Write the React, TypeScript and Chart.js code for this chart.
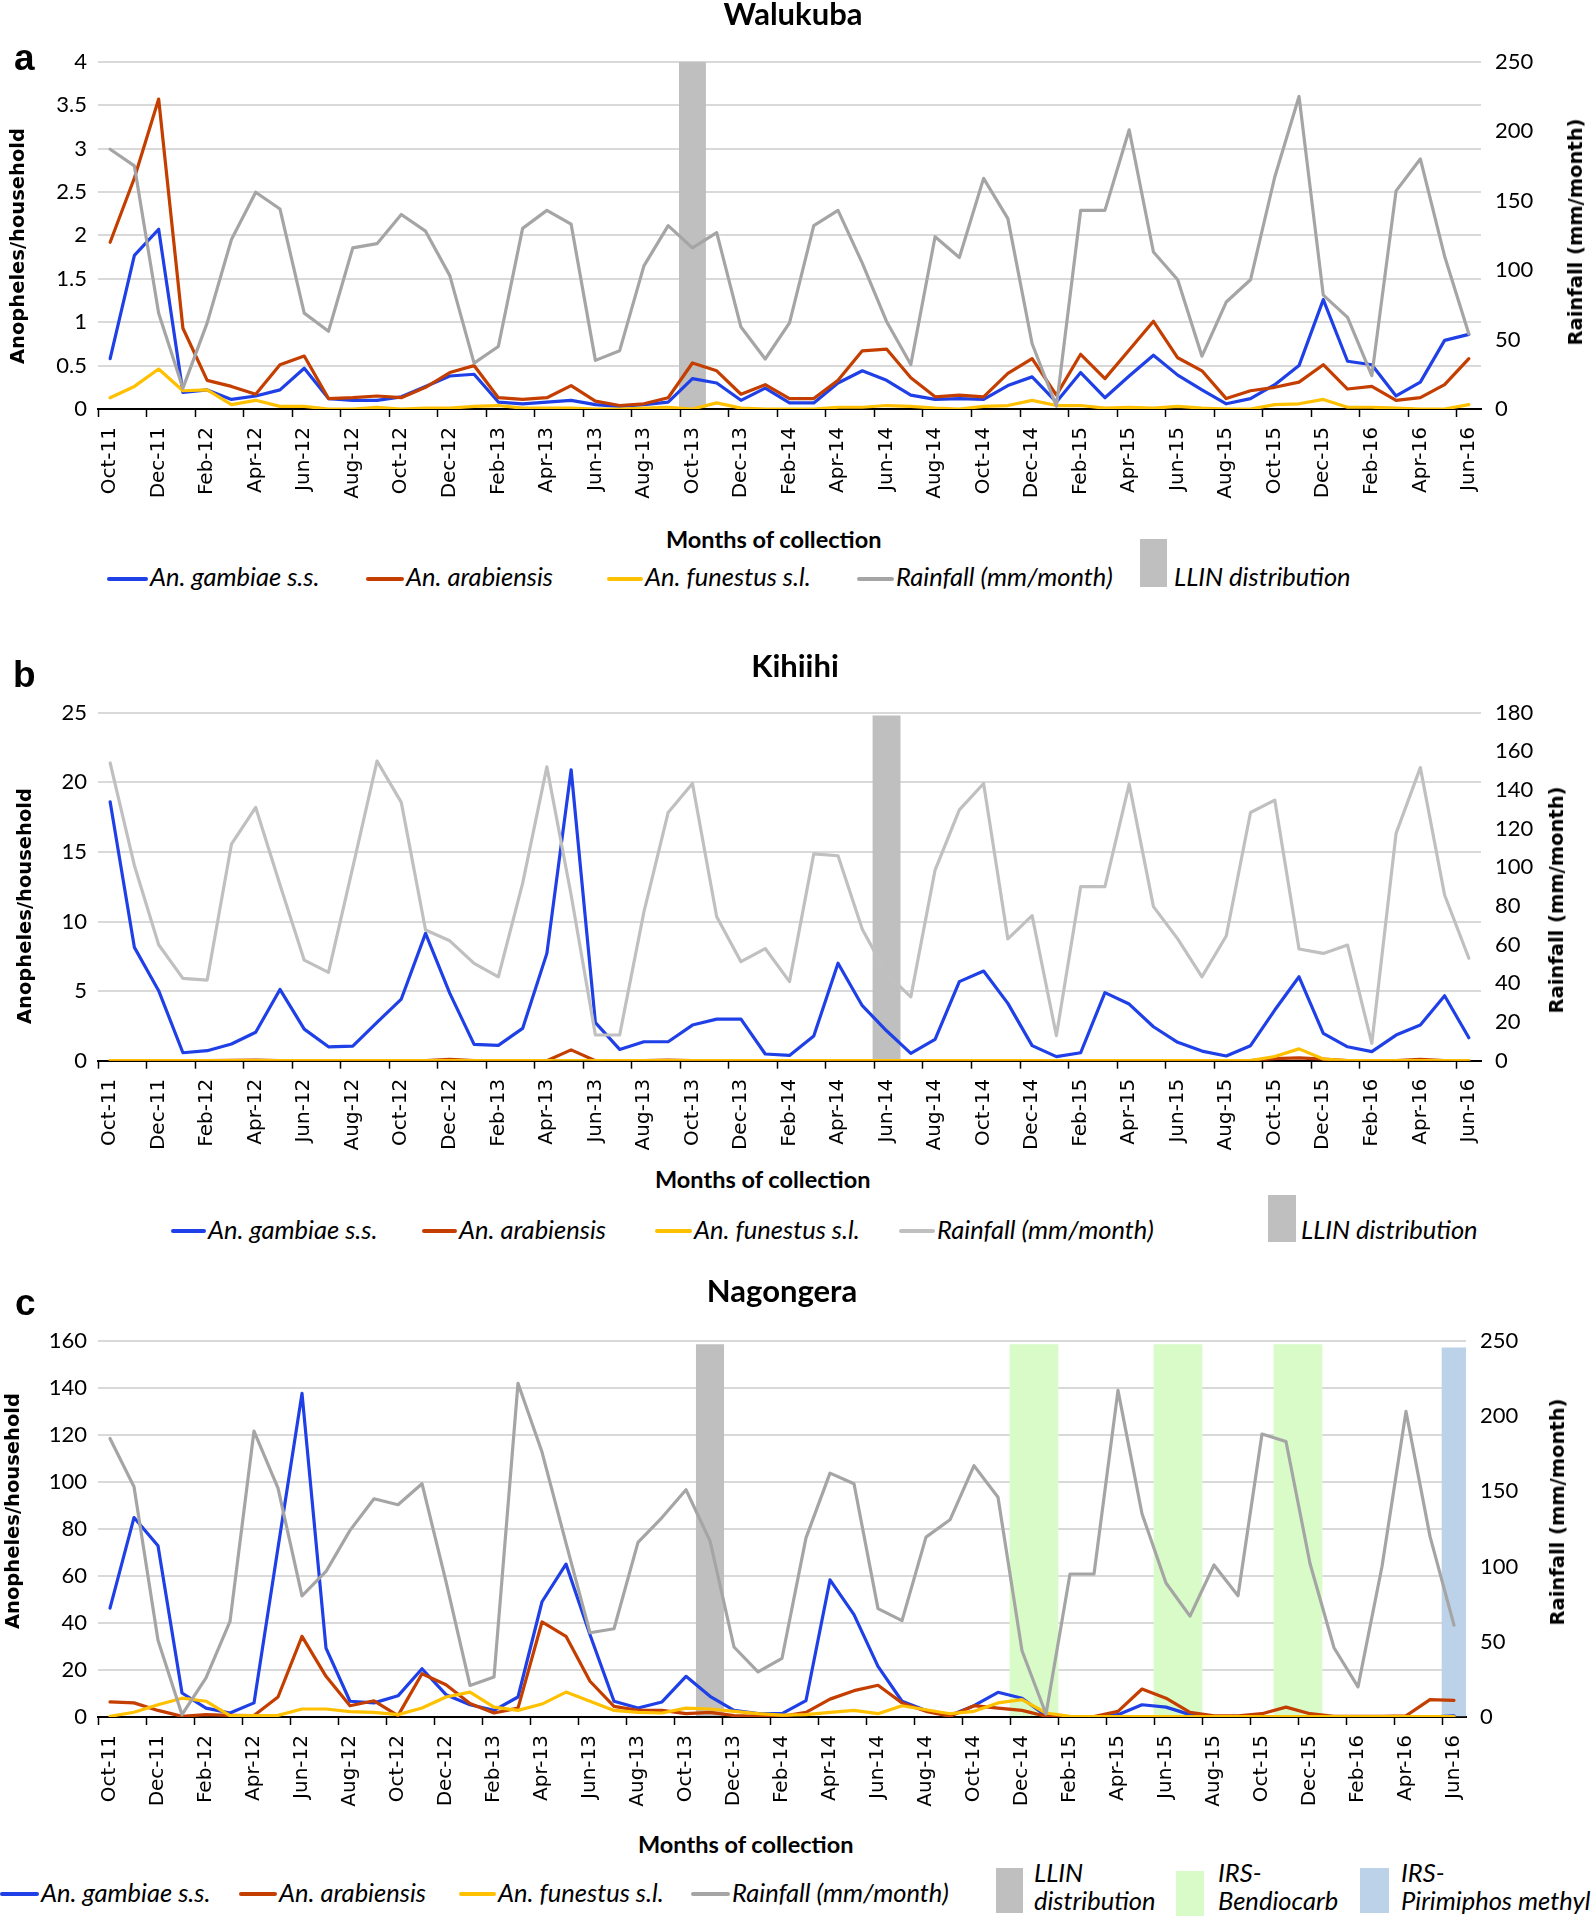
import React, { useEffect, useRef } from 'react';
import { Chart, registerables } from 'chart.js';

Chart.register(...registerables);

// ---------- categories ----------
const months = [
  'Oct-11', 'Nov-11', 'Dec-11', 'Jan-12', 'Feb-12', 'Mar-12', 'Apr-12', 'May-12', 'Jun-12', 'Jul-12',
  'Aug-12', 'Sep-12', 'Oct-12', 'Nov-12', 'Dec-12', 'Jan-13', 'Feb-13', 'Mar-13', 'Apr-13', 'May-13',
  'Jun-13', 'Jul-13', 'Aug-13', 'Sep-13', 'Oct-13', 'Nov-13', 'Dec-13', 'Jan-14', 'Feb-14', 'Mar-14',
  'Apr-14', 'May-14', 'Jun-14', 'Jul-14', 'Aug-14', 'Sep-14', 'Oct-14', 'Nov-14', 'Dec-14', 'Jan-15',
  'Feb-15', 'Mar-15', 'Apr-15', 'May-15', 'Jun-15', 'Jul-15', 'Aug-15', 'Sep-15', 'Oct-15', 'Nov-15',
  'Dec-15', 'Jan-16', 'Feb-16', 'Mar-16', 'Apr-16', 'May-16', 'Jun-16',
];

// ---------- (a) Walukuba ----------
const gambiaeWalukuba = [
  0.58, 1.77, 2.07, 0.19, 0.22, 0.11, 0.15, 0.22, 0.47, 0.12,
  0.10, 0.10, 0.14, 0.26, 0.38, 0.40, 0.08, 0.06, 0.08, 0.10,
  0.05, 0.03, 0.05, 0.08, 0.35, 0.30, 0.10, 0.24, 0.07, 0.07,
  0.30, 0.44, 0.33, 0.16, 0.11, 0.12, 0.11, 0.27, 0.37, 0.08,
  0.42, 0.13, 0.38, 0.62, 0.39, 0.22, 0.06, 0.12, 0.28, 0.50,
  1.26, 0.55, 0.51, 0.15, 0.31, 0.79, 0.86,
];
const arabiensisWalukuba = [
  1.92, 2.66, 3.57, 0.93, 0.33, 0.26, 0.17, 0.51, 0.61, 0.12,
  0.13, 0.15, 0.13, 0.25, 0.42, 0.50, 0.13, 0.11, 0.13, 0.27,
  0.09, 0.04, 0.06, 0.13, 0.53, 0.44, 0.17, 0.28, 0.12, 0.12,
  0.33, 0.67, 0.69, 0.36, 0.14, 0.16, 0.14, 0.41, 0.58, 0.16,
  0.63, 0.35, 0.68, 1.01, 0.59, 0.44, 0.12, 0.21, 0.25, 0.31,
  0.51, 0.23, 0.26, 0.10, 0.13, 0.28, 0.58,
];
const funestusWalukuba = [
  0.13, 0.26, 0.46, 0.21, 0.22, 0.05, 0.10, 0.03, 0.03, 0.00,
  0.00, 0.02, 0.00, 0.01, 0.01, 0.03, 0.04, 0.01, 0.01, 0.01,
  0.00, 0.00, 0.01, 0.02, 0.00, 0.07, 0.01, 0.00, 0.00, 0.00,
  0.02, 0.02, 0.04, 0.03, 0.01, 0.00, 0.03, 0.04, 0.10, 0.04,
  0.04, 0.01, 0.02, 0.01, 0.03, 0.01, 0.00, 0.00, 0.05, 0.06,
  0.11, 0.02, 0.02, 0.01, 0.00, 0.00, 0.05,
];
const rainWalukuba = [
  187, 175, 69, 15, 62, 122, 156, 144, 69, 56,
  116, 119, 140, 128, 96, 33, 45, 130, 143, 133,
  35, 42, 103, 132, 116, 127, 59, 36, 62, 132,
  143, 105, 63, 32, 124, 109, 166, 137, 47, 2,
  143, 143, 201, 113, 93, 38, 77, 93, 167, 225,
  82, 66, 24, 157, 180, 110, 54,
];

// ---------- (b) Kihiihi ----------
const gambiaeKihiihi = [
  18.6, 8.14, 5.03, 0.57, 0.72, 1.2, 2.04, 5.12, 2.27, 1.0,
  1.05, 2.75, 4.43, 9.15, 4.84, 1.17, 1.1, 2.32, 7.71, 20.9,
  2.73, 0.81, 1.36, 1.36, 2.56, 2.99, 2.99, 0.48, 0.38, 1.77,
  7.0, 3.95, 2.15, 0.53, 1.53, 5.68, 6.44, 4.12, 1.08, 0.29,
  0.57, 4.89, 4.07, 2.44, 1.32, 0.69, 0.34, 1.08, 3.64, 6.03,
  1.96, 1.0, 0.65, 1.84, 2.56, 4.67, 1.65,
];
const arabiensisKihiihi = [
  0, 0, 0, 0, 0, 0.03, 0.05, 0, 0, 0,
  0, 0, 0, 0, 0.1, 0, 0, 0, 0, 0.78,
  0, 0, 0, 0.05, 0, 0, 0, 0, 0, 0,
  0, 0, 0, 0, 0, 0, 0, 0, 0, 0,
  0, 0, 0, 0, 0, 0, 0, 0, 0.15, 0.2,
  0.12, 0, 0, 0, 0.1, 0, 0,
];
const funestusKihiihi = [
  0, 0, 0, 0, 0, 0, 0, 0, 0, 0,
  0, 0, 0, 0, 0, 0, 0, 0, 0, 0,
  0, 0, 0, 0, 0, 0, 0, 0, 0, 0,
  0, 0, 0, 0, 0, 0, 0, 0, 0, 0,
  0, 0, 0, 0, 0, 0, 0, 0, 0.3, 0.85,
  0.12, 0, 0, 0, 0, 0, 0,
];
const rainKihiihi = [
  154, 101, 60, 42.6, 41.7, 112, 131, 91, 52, 45.7,
  100, 155, 133.6, 67.6, 62, 50.3, 43.4, 91.7, 152, 85.7,
  13.3, 13.3, 77, 128.4, 143.4, 74.5, 51.2, 58, 40.9, 107,
  106, 68, 45, 33, 98.6, 129.7, 143.4, 63, 75, 13,
  90, 90, 143, 79.7, 63, 43.4, 64.5, 128.4, 134.8, 57.8,
  55.5, 59.8, 9, 117.6, 151.6, 85.7, 53,
];

// ---------- (c) Nagongera ----------
const gambiaeNagongera = [
  46.3, 84.8, 72.8, 10.2, 3.8, 1.7, 6, 72, 137.6, 29.3,
  6.7, 6, 9, 20.5, 9.5, 5.2, 2.8, 8.5, 49, 65,
  35, 6.7, 3.8, 6.4, 17.3, 8.8, 2.8, 1.4, 1.4, 7,
  58.3, 43.5, 21.5, 6.7, 2.8, 0.6, 4.8, 10.5, 8, 0.5,
  0, 0, 1, 5.2, 4.2, 1, 0, 0, 0, 0,
  0, 0, 0, 0, 0, 0, 0.5,
];
const arabiensisNagongera = [
  6.4, 6, 2.8, 0.3, 1, 0.7, 0.6, 8.5, 34.3, 17.3,
  4.8, 6.9, 0.6, 18.4, 13.7, 5.7, 1.7, 3.8, 40.4, 34.3,
  15.2, 4.5, 2.8, 2.8, 1.4, 2, 0.6, 0.3, 0.3, 2,
  7.6, 11.2, 13.5, 6, 2.4, 0.3, 4.8, 3.8, 2.8, 0.3,
  0.2, 0.2, 2.4, 11.9, 8, 2, 0.5, 0.5, 1.4, 4.2,
  1.4, 0.3, 0.3, 0.3, 0.5, 7.4, 7.1,
];
const funestusNagongera = [
  0.3, 2, 5.2, 8, 6.7, 0.6, 0.6, 0.7, 3.4, 3.4,
  2.3, 2, 1, 3.8, 8.5, 10.6, 4.2, 2.8, 5.5, 10.6,
  6.7, 2.8, 2, 1.7, 3.8, 3.4, 2.4, 1.4, 0.8, 1,
  2, 2.8, 1.4, 4.8, 3.1, 1.4, 2.4, 6, 7.4, 1.7,
  0.3, 0.2, 0.2, 0.2, 0.2, 0.2, 0.2, 0.2, 0.2, 0.2,
  0.2, 0.2, 0.2, 0.2, 0.2, 0.2, 0.2,
];
const rainNagongera = [
  185, 153, 51, 1.5, 26, 63.5, 190, 152, 80.5, 96.7,
  124, 145, 141, 155, 90, 21, 26.5, 221.7, 176, 115.5,
  56, 58.6, 116, 132.5, 151, 117, 46.5, 30, 39, 119,
  162, 155, 72, 64, 119.5, 131, 167, 146, 44, 2,
  95, 95, 217, 135, 89, 67, 101, 80.5, 188, 183,
  102, 46, 20, 100, 203, 120, 61,
];

// ---------- interventions ----------
const llinWalukuba = ['Oct-13'];
const llinKihiihi = ['Jun-14'];
const llinNagongera = ['Nov-13'];
const irsBendiocarbNagongera = ['Dec-14', 'Jan-15', 'Jun-15', 'Jul-15', 'Nov-15', 'Dec-15'];
const irsPirimiphosNagongera = ['Jun-16'];
const bandHeightWalukuba = 4;
const bandHeightKihiihi = 24.8;
const bandHeightNagongera = 158.5;
const bandHeightPirimiphos = 157;

// ---------- styles ----------
const BLUE = '#1F40E6';
const RED = '#C43E00';
const YELLOW = '#FFC000';
const GRAY = '#A5A5A5';
const GRAY_LIGHT = '#C0C0C0';
const LLIN_C = '#BFBFBF';
const BENDIO_C = '#D9FBC8';
const PIRIM_C = '#BCD2E8';

function lineDs(label: string, data: number[], color: string, yAxisID: string, order: number) {
  return {
    type: 'line' as const,
    label,
    data,
    borderColor: color,
    backgroundColor: color,
    borderWidth: 3.2,
    pointRadius: 0,
    pointHoverRadius: 0,
    tension: 0,
    borderJoinStyle: 'round' as const,
    borderCapStyle: 'round' as const,
    fill: false,
    yAxisID,
    order,
  };
}

function bandDs(label: string, list: string[], value: number, color: string, width: number) {
  return {
    type: 'bar' as const,
    label,
    data: months.map((m) => (list.includes(m) ? value : null)),
    backgroundColor: color,
    borderWidth: 0,
    barPercentage: width,
    categoryPercentage: 1,
    grouped: false,
    yAxisID: 'y',
    order: 10,
  };
}

type PanelCfg = {
  top: number;
  height: number;
  chartTop: number;
  chartBottom: number;
  rightW: number;
  yMax: number;
  yStep: number;
  rMax: number;
  rStep: number;
  datasets: any[];
};

const panelA: PanelCfg = {
  top: 0, height: 520, chartTop: 61.7, chartBottom: 409, rightW: 113,
  yMax: 4, yStep: 0.5, rMax: 250, rStep: 50,
  datasets: [
    lineDs('Rainfall (mm/month)', rainWalukuba, GRAY, 'y2', 0),
    lineDs('An. funestus s.l.', funestusWalukuba, YELLOW, 'y', 1),
    lineDs('An. arabiensis', arabiensisWalukuba, RED, 'y', 2),
    lineDs('An. gambiae s.s.', gambiaeWalukuba, BLUE, 'y', 3),
    bandDs('LLIN distribution', llinWalukuba, bandHeightWalukuba, LLIN_C, 1.11),
  ],
};
const panelB: PanelCfg = {
  top: 640, height: 520, chartTop: 72.7, chartBottom: 420.7, rightW: 113,
  yMax: 25, yStep: 5, rMax: 180, rStep: 20,
  datasets: [
    lineDs('Rainfall (mm/month)', rainKihiihi, GRAY_LIGHT, 'y2', 0),
    lineDs('An. funestus s.l.', funestusKihiihi, YELLOW, 'y', 1),
    lineDs('An. arabiensis', arabiensisKihiihi, RED, 'y', 2),
    lineDs('An. gambiae s.s.', gambiaeKihiihi, BLUE, 'y', 3),
    bandDs('LLIN distribution', llinKihiihi, bandHeightKihiihi, LLIN_C, 1.15),
  ],
};
const panelC: PanelCfg = {
  top: 1280, height: 540, chartTop: 60.7, chartBottom: 437, rightW: 128,
  yMax: 160, yStep: 20, rMax: 250, rStep: 50,
  datasets: [
    lineDs('Rainfall (mm/month)', rainNagongera, GRAY, 'y2', 0),
    lineDs('An. funestus s.l.', funestusNagongera, YELLOW, 'y', 1),
    lineDs('An. arabiensis', arabiensisNagongera, RED, 'y', 2),
    lineDs('An. gambiae s.s.', gambiaeNagongera, BLUE, 'y', 3),
    bandDs('LLIN distribution', llinNagongera, bandHeightNagongera, LLIN_C, 1.17),
    bandDs('IRS-Bendiocarb', irsBendiocarbNagongera, bandHeightNagongera, BENDIO_C, 1.03),
    bandDs('IRS-Pirimiphos methyl', irsPirimiphosNagongera, bandHeightPirimiphos, PIRIM_C, 1.0),
  ],
};

const plainNumber = (v: any) => String(Number(v));

function ChartPanel({ cfg }: { cfg: PanelCfg }) {
  const ref = useRef<HTMLCanvasElement>(null);
  useEffect(() => {
    const canvas = ref.current;
    if (!canvas) return;
    const xh = cfg.height - cfg.chartBottom;
    const chart = new Chart(canvas, {
      type: 'line',
      data: { labels: months, datasets: cfg.datasets as any },
      options: {
        animation: false,
        responsive: false,
        maintainAspectRatio: false,
        devicePixelRatio: 1,
        events: [],
        layout: { padding: { top: cfg.chartTop, left: 0, right: 0, bottom: 0 }, autoPadding: false },
        plugins: { legend: { display: false }, title: { display: false }, tooltip: { enabled: false } },
        scales: {
          x: {
            type: 'category',
            offset: true,
            grid: {
              offset: true,
              drawOnChartArea: false,
              drawTicks: true,
              tickLength: 8,
              tickWidth: 1.5,
              tickColor: (ctx: any) => (ctx.index % 2 === 0 ? '#000' : 'rgba(0,0,0,0)'),
            },
            border: { display: true, color: '#000', width: 2 },
            ticks: {
              autoSkip: false,
              maxRotation: 90,
              minRotation: 90,
              padding: 10,
              color: '#000',
              font: { family: 'DejaVu Sans', size: 20 },
              callback: (_v: any, i: number) => (i % 2 === 0 ? months[i] : ''),
            },
            afterFit: (s: any) => { s.height = xh; },
          },
          y: {
            position: 'left',
            min: 0,
            max: cfg.yMax,
            ticks: {
              stepSize: cfg.yStep, padding: 11, color: '#000',
              font: { family: 'Lato', size: 22 }, callback: plainNumber,
            },
            grid: { color: '#D9D9D9', lineWidth: 2, drawTicks: false },
            border: { display: false },
            afterFit: (s: any) => { s.width = 98; },
          },
          y2: {
            position: 'right',
            min: 0,
            max: cfg.rMax,
            ticks: {
              stepSize: cfg.rStep, padding: 14, color: '#000',
              font: { family: 'Lato', size: 22 }, callback: plainNumber,
            },
            grid: { drawOnChartArea: false, drawTicks: false },
            border: { display: false },
            afterFit: (s: any) => { s.width = cfg.rightW; },
          },
        },
      } as any,
    });
    return () => chart.destroy();
  }, [cfg]);
  return (
    <canvas
      ref={ref}
      width={1594}
      height={cfg.height}
      style={{ position: 'absolute', left: 0, top: cfg.top, width: 1594, height: cfg.height }}
    />
  );
}

// ---------- text helpers ----------
const BASE: Record<string, number> = { Lato: 0.887, 'DejaVu Sans': 0.846, 'Liberation Sans': 0.8465 };
const LEG = 25.5;

function Txt(props: {
  x: number; y: number; size: number; font?: string; weight?: number; italic?: boolean;
  center?: boolean; children: React.ReactNode;
}) {
  const font = props.font || 'Lato';
  return (
    <div
      style={{
        position: 'absolute',
        left: props.x,
        top: props.y - BASE[font] * props.size,
        fontFamily: font,
        fontSize: props.size,
        lineHeight: `${props.size}px`,
        fontWeight: props.weight || 400,
        fontStyle: props.italic ? 'italic' : 'normal',
        whiteSpace: 'nowrap',
        color: '#000',
        transform: props.center ? 'translateX(-50%)' : undefined,
      }}
    >
      {props.children}
    </div>
  );
}

function VTxt(props: { cx: number; cy: number; children: React.ReactNode }) {
  return (
    <div
      style={{
        position: 'absolute',
        left: props.cx,
        top: props.cy,
        fontFamily: 'DejaVu Sans',
        fontWeight: 700,
        fontSize: 19.5,
        lineHeight: '24px',
        whiteSpace: 'nowrap',
        color: '#000',
        transform: 'translate(-50%, -50%) rotate(-90deg)',
      }}
    >
      {props.children}
    </div>
  );
}

function LegLine(props: { x: number; tx: number; my: number; by: number; color: string; label: string }) {
  return (
    <>
      <div
        style={{
          position: 'absolute', left: props.x, top: props.my - 2, width: props.tx - props.x - 2, height: 4,
          background: props.color, borderRadius: 2,
        }}
      />
      <Txt x={props.tx} y={props.by} size={LEG} italic>{props.label}</Txt>
    </>
  );
}

function Box(props: { x: number; y: number; w: number; h: number; color: string }) {
  return <div style={{ position: 'absolute', left: props.x, top: props.y, width: props.w, height: props.h, background: props.color }} />;
}

export default function App() {
  useEffect(() => {
    document.body.style.margin = '0';
  }, []);
  return (
    <div style={{ position: 'absolute', left: 0, top: 0, width: 1594, height: 1916, overflow: 'hidden', background: '#fff' }}>
      <ChartPanel cfg={panelA} />
      <ChartPanel cfg={panelB} />
      <ChartPanel cfg={panelC} />

      {/* Panel a */}
      <Txt x={14} y={70} size={37} font="Liberation Sans" weight={700}>a</Txt>
      <Txt x={793} y={25} size={31} weight={700} center>Walukuba</Txt>
      <VTxt cx={18} cy={246}>Anopheles/household</VTxt>
      <VTxt cx={1576} cy={232}>Rainfall (mm/month)</VTxt>
      <Txt x={666} y={549} size={23.5} weight={700}>Months of collection</Txt>
      <LegLine x={107} tx={150} my={579} by={587} color={BLUE} label="An. gambiae s.s." />
      <LegLine x={366} tx={406} my={579} by={587} color={RED} label="An. arabiensis" />
      <LegLine x={607} tx={645} my={579} by={587} color={YELLOW} label="An. funestus s.l." />
      <LegLine x={857} tx={896} my={579} by={587} color={GRAY} label="Rainfall (mm/month)" />
      <Box x={1140} y={539} w={27} h={48} color={LLIN_C} />
      <Txt x={1174} y={587} size={LEG} italic>LLIN distribution</Txt>

      {/* Panel b */}
      <Txt x={13} y={687} size={37} font="Liberation Sans" weight={700}>b</Txt>
      <Txt x={795} y={677} size={31} weight={700} center>Kihiihi</Txt>
      <VTxt cx={25} cy={906}>Anopheles/household</VTxt>
      <VTxt cx={1557} cy={900}>Rainfall (mm/month)</VTxt>
      <Txt x={655} y={1189} size={23.5} weight={700}>Months of collection</Txt>
      <LegLine x={171} tx={208} my={1231} by={1240} color={BLUE} label="An. gambiae s.s." />
      <LegLine x={422} tx={459} my={1231} by={1240} color={RED} label="An. arabiensis" />
      <LegLine x={655} tx={694} my={1231} by={1240} color={YELLOW} label="An. funestus s.l." />
      <LegLine x={899} tx={937} my={1231} by={1240} color={GRAY_LIGHT} label="Rainfall (mm/month)" />
      <Box x={1268} y={1195} w={28} h={47} color={LLIN_C} />
      <Txt x={1301} y={1240} size={LEG} italic>LLIN distribution</Txt>

      {/* Panel c */}
      <Txt x={15} y={1315} size={37} font="Liberation Sans" weight={700}>c</Txt>
      <Txt x={782} y={1302} size={31} weight={700} center>Nagongera</Txt>
      <VTxt cx={13} cy={1511}>Anopheles/household</VTxt>
      <VTxt cx={1558} cy={1512}>Rainfall (mm/month)</VTxt>
      <Txt x={638} y={1854} size={23.5} weight={700}>Months of collection</Txt>
      <LegLine x={0} tx={41} my={1894} by={1903} color={BLUE} label="An. gambiae s.s." />
      <LegLine x={239} tx={279} my={1894} by={1903} color={RED} label="An. arabiensis" />
      <LegLine x={459} tx={498} my={1894} by={1903} color={YELLOW} label="An. funestus s.l." />
      <LegLine x={691} tx={732} my={1894} by={1903} color={GRAY} label="Rainfall (mm/month)" />
      <Box x={996} y={1868} w={27} h={45} color={LLIN_C} />
      <Txt x={1034} y={1883} size={LEG} italic>LLIN</Txt>
      <Txt x={1034} y={1911} size={LEG} italic>distribution</Txt>
      <Box x={1176} y={1871} w={28} h={45} color={BENDIO_C} />
      <Txt x={1218} y={1883} size={LEG} italic>IRS-</Txt>
      <Txt x={1218} y={1911} size={LEG} italic>Bendiocarb</Txt>
      <Box x={1360} y={1868} w={29} h={45} color={PIRIM_C} />
      <Txt x={1401} y={1883} size={LEG} italic>IRS-</Txt>
      <Txt x={1401} y={1911} size={LEG} italic>Pirimiphos methyl</Txt>
    </div>
  );
}
